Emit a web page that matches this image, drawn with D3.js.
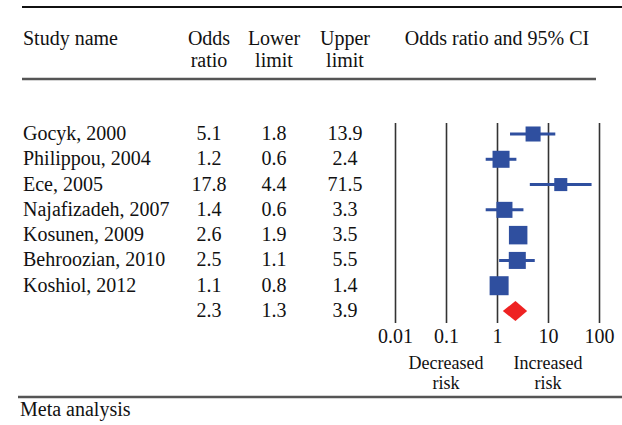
<!DOCTYPE html>
<html lang="en">
<head>
    <meta charset="UTF-8">
    <title>Meta analysis forest plot</title>
    <style>
        body {
            margin: 0;
            background: #fff;
            overflow: hidden;
        }

        svg text {
            font-family: "Liberation Serif", "Times New Roman", serif;
            font-size: 20px;
            fill: #111;
        }

        svg text.dir {
            font-size: 18px;
        }

        .rule {
            stroke: #555;
            stroke-width: 2.5px;
        }

        .grid line {
            stroke: #333;
            stroke-width: 1.6px;
        }
    </style>
</head>
<body>
    <div id="chart"></div>
    <script src="https://d3js.org/d3.v7.min.js"></script>
    <script>
    // study data
    const studies = ["Gocyk, 2000", "Philippou, 2004", "Ece, 2005", "Najafizadeh, 2007",
                     "Kosunen, 2009", "Behroozian, 2010", "Koshiol, 2012"];
    const oddsRatio = [5.1, 1.2, 17.8, 1.4, 2.6, 2.5, 1.1];
    const lowerLimit = [1.8, 0.6, 4.4, 0.6, 1.9, 1.1, 0.8];
    const upperLimit = [13.9, 2.4, 71.5, 3.3, 3.5, 5.5, 1.4];
    // relative weight (%), estimated from square sizes
    const weights = [11.7, 15.0, 8.8, 13.3, 17.7, 15.0, 18.7];

    const pooled = { or: 2.3, lower: 1.3, upper: 3.9 };

    const tickValues = [0.01, 0.1, 1, 10, 100];
    const tickLabels = ["0.01", "0.1", "1", "10", "100"];

    const width = 622;
    const height = 425;

    const svg = d3.select("#chart").append("svg")
        .attr("width", width)
        .attr("height", height);

    // horizontal rules
    svg.append("line")
        .attr("x1", 22).attr("x2", 622)
        .attr("y1", 7).attr("y2", 7)
        .attr("stroke", "#111").attr("stroke-width", 2);

    svg.append("line").attr("class", "rule")
        .attr("x1", 22).attr("x2", 596)
        .attr("y1", 79).attr("y2", 79);

    svg.append("line").attr("class", "rule")
        .attr("x1", 18).attr("x2", 622)
        .attr("y1", 397).attr("y2", 397);

    // column headers
    const colX = { name: 23, or: 209, lower: 274, upper: 345 };

    svg.append("text").attr("x", colX.name).attr("y", 45).text("Study name");

    const headers = [
        { x: colX.or, lines: ["Odds", "ratio"] },
        { x: colX.lower, lines: ["Lower", "limit"] },
        { x: colX.upper, lines: ["Upper", "limit"] }
    ];
    headers.forEach(h => {
        h.lines.forEach((t, k) => {
            svg.append("text")
                .attr("x", h.x)
                .attr("y", 45 + k * 22)
                .attr("text-anchor", "middle")
                .text(t);
        });
    });

    svg.append("text")
        .attr("x", 497)
        .attr("y", 45)
        .attr("text-anchor", "middle")
        .text("Odds ratio and 95% CI");

    // scales
    const rowIdx = d3.range(studies.length + 1);
    const y = d3.scalePoint().domain(rowIdx).range([134, 311]);
    const x = d3.scaleLog().domain([0.01, 100]).range([395, 599]);
    const size = d3.scaleSqrt().domain([0, d3.max(weights)]).range([0, 19]);

    // table values
    const fmt = d3.format(".1f");
    studies.forEach((s, i) => {
        const base = y(i) + 6;
        svg.append("text").attr("x", colX.name).attr("y", base).text(s);
        svg.append("text").attr("x", colX.or).attr("y", base).attr("text-anchor", "middle").text(fmt(oddsRatio[i]));
        svg.append("text").attr("x", colX.lower).attr("y", base).attr("text-anchor", "middle").text(fmt(lowerLimit[i]));
        svg.append("text").attr("x", colX.upper).attr("y", base).attr("text-anchor", "middle").text(fmt(upperLimit[i]));
    });
    const pRow = y(studies.length) + 6;
    svg.append("text").attr("x", colX.or).attr("y", pRow).attr("text-anchor", "middle").text(fmt(pooled.or));
    svg.append("text").attr("x", colX.lower).attr("y", pRow).attr("text-anchor", "middle").text(fmt(pooled.lower));
    svg.append("text").attr("x", colX.upper).attr("y", pRow).attr("text-anchor", "middle").text(fmt(pooled.upper));

    // vertical reference lines + tick labels via axis
    const axis = d3.axisBottom(x)
        .tickValues(tickValues)
        .tickFormat((d, i) => tickLabels[i])
        .tickSize(-(323 - 123))
        .tickPadding(8);

    const g = svg.append("g")
        .attr("class", "grid")
        .attr("transform", "translate(0,323)")
        .call(axis);
    g.select(".domain").remove();
    g.selectAll("text")
        .attr("fill", "#111")
        .attr("dy", "0.71em")
        .attr("y", 6);

    // confidence intervals
    const blue = "#2f4f9f";
    svg.append("g").selectAll("line")
        .data(studies)
        .join("line")
        .attr("x1", (d, i) => x(lowerLimit[i]))
        .attr("x2", (d, i) => x(upperLimit[i]))
        .attr("y1", (d, i) => y(i))
        .attr("y2", (d, i) => y(i))
        .attr("stroke", blue)
        .attr("stroke-width", 3);

    // weighted squares
    svg.append("g").selectAll("rect")
        .data(studies)
        .join("rect")
        .attr("x", (d, i) => x(oddsRatio[i]) - size(weights[i]) / 2)
        .attr("y", (d, i) => y(i) - size(weights[i]) / 2)
        .attr("width", (d, i) => size(weights[i]))
        .attr("height", (d, i) => size(weights[i]))
        .attr("fill", blue);

    // pooled diamond
    const py = y(studies.length);
    const dh = 10;
    svg.append("path")
        .attr("d", `M${x(pooled.lower)},${py} L${x(pooled.or)},${py - dh} L${x(pooled.upper)},${py} L${x(pooled.or)},${py + dh} Z`)
        .attr("fill", "#ee2222");

    // direction labels
    const dir = [
        { v: 0.1, lines: ["Decreased", "risk"] },
        { v: 10, lines: ["Increased", "risk"] }
    ];
    dir.forEach(d => {
        d.lines.forEach((t, k) => {
            svg.append("text")
                .attr("class", "dir")
                .attr("x", x(d.v))
                .attr("y", 369 + k * 20)
                .attr("text-anchor", "middle")
                .text(t);
        });
    });

    svg.append("text").attr("x", 20).attr("y", 416).text("Meta analysis");
    </script>
</body>
</html>
